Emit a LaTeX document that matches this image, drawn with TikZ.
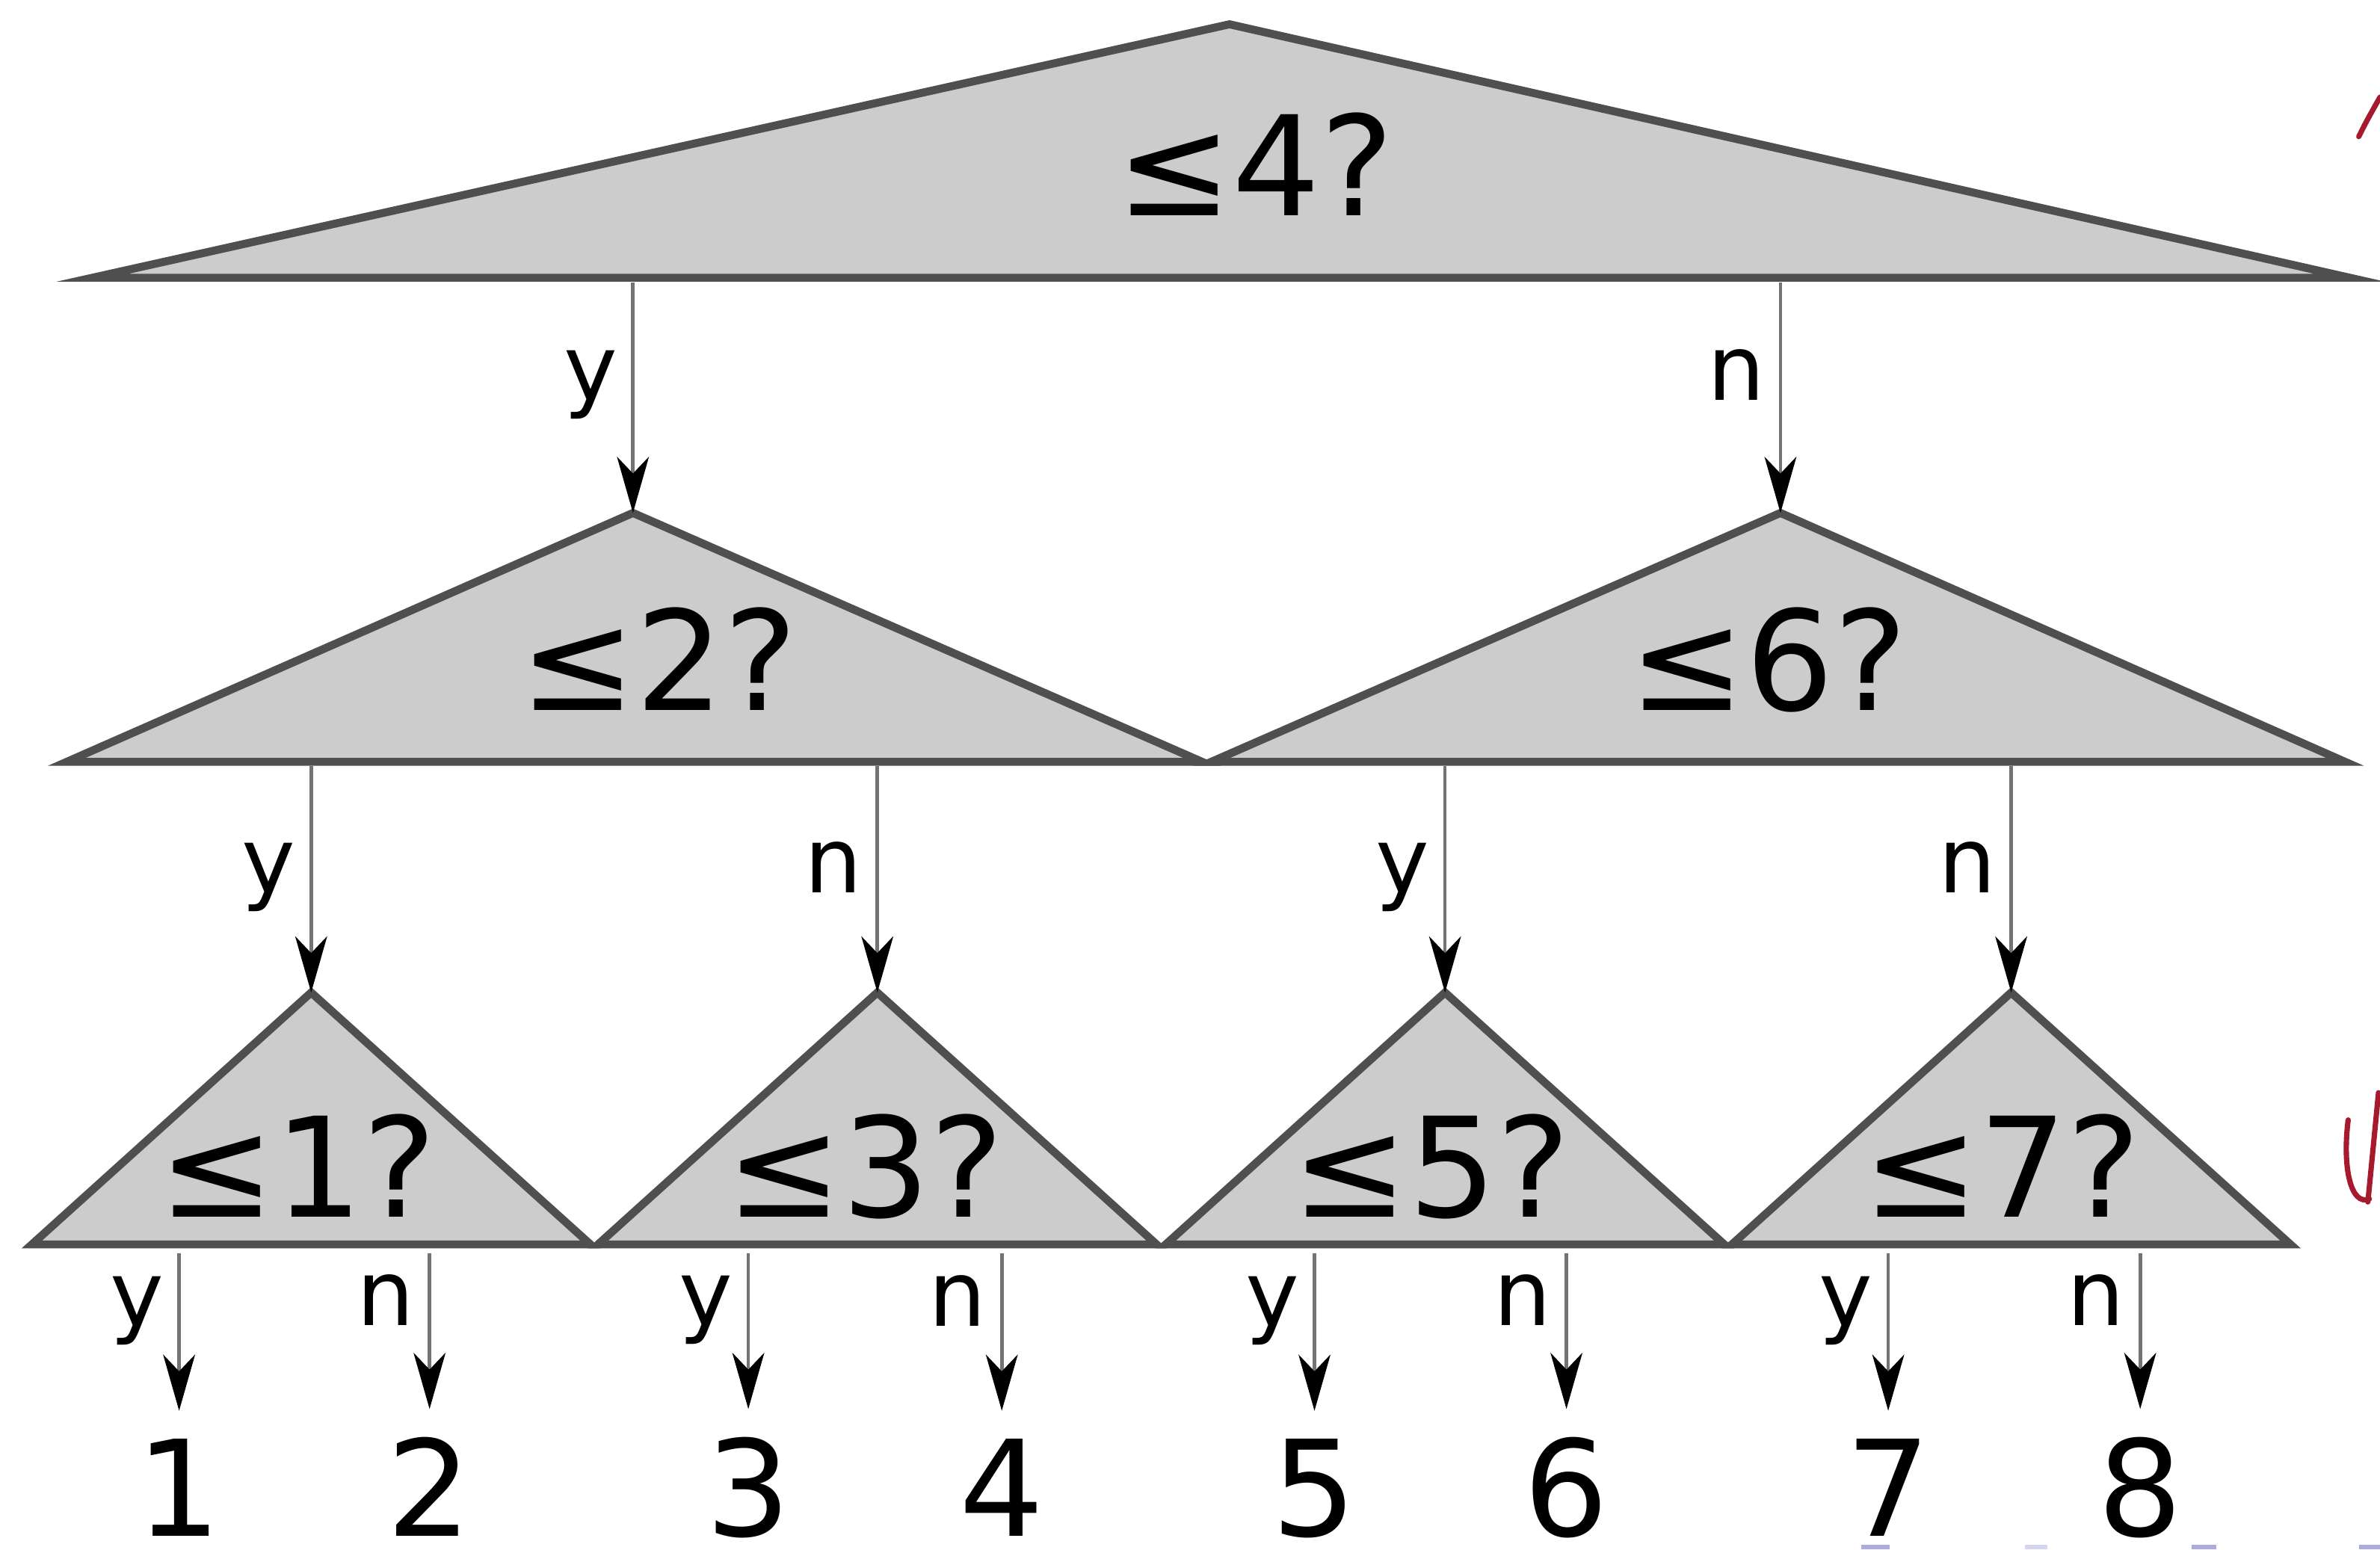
\documentclass[tikz,border=0pt]{standalone}
\usepackage{fontspec}
\setmainfont{DejaVu Sans}
\usepackage{xcolor}
\usetikzlibrary{arrows.meta}
\definecolor{trifill}{HTML}{CCCCCC}
\definecolor{triline}{HTML}{4F4F4F}
\definecolor{inkred}{HTML}{A51A2D}
\definecolor{markblue}{HTML}{ABABDD}
\tikzset{tri/.style={draw=triline,fill=trifill,line width=3pt,line join=miter},
big/.style={inner sep=0pt,anchor=base,font=\fontsize{52}{60}\selectfont},
leaf/.style={inner sep=0pt,anchor=base,font=\fontsize{50}{60}\selectfont},
yn/.style={inner sep=0pt,anchor=base east,xshift=-0.18cm,font=\fontsize{34}{40}\selectfont},
branch/.style={-{Stealth[length=0.74cm,width=0.42cm,inset=0.22cm,color=black]},draw=black!55,line width=1.3pt}}
\begin{document}
\begin{tikzpicture}[x=0.02cm,y=-0.02cm]
\useasboundingbox(0,0)rectangle(1568,1021);
% triangles
\draw[tri](61,183)--(810,16)coordinate(q4)--(1548,183)--cycle;
\draw[tri](44,502)--(417,338)coordinate(q2)--(792,502)--cycle;
\draw[tri](798,502)--(1173,338)coordinate(q6)--(1545,502)--cycle;
\draw[tri](21,820)--(205,654)coordinate(q1)--(389,820)--cycle;
\draw[tri](394,820)--(578,654)coordinate(q3)--(762,820)--cycle;
\draw[tri](768,820)--(952,654)coordinate(q5)--(1136,820)--cycle;
\draw[tri](1141,820)--(1325,654)coordinate(q7)--(1509,820)--cycle;
\node[big](t4)at(827,142){≤4?};
\node[big](t2)at(434,468){≤2?};
\node[big](t6)at(1165,468){≤6?};
\node[big](t1)at(196,802){≤1?};
\node[big](t3)at(570,802){≤3?};
\node[big](t5)at(943,802){≤5?};
\node[big](t7)at(1319,802){≤7?};
% leaves
\node[leaf](l1)at(118,1012){1};
\node[leaf](l2)at(283,1012){2};
\node[leaf](l3)at(493,1012){3};
\node[leaf](l4)at(660,1012){4};
\node[leaf](l5)at(866,1012){5};
\node[leaf](l6)at(1032,1012){6};
\node[leaf](l7)at(1244,1012){7};
\node[leaf](l8)at(1410,1012){8};
\coordinate(b4)at(0,186);
\coordinate(b26)at(0,505);
\coordinate(b1357)at(0,826);
% branches
\draw[branch](q2|-b4)--(q2)node[yn,pos=0.51]{y};
\draw[branch](q6|-b4)--(q6)node[yn,pos=0.51]{n};
\draw[branch](q1|-b26)--(q1)node[yn,pos=0.56]{y};
\draw[branch](q3|-b26)--(q3)node[yn,pos=0.56]{n};
\draw[branch](q5|-b26)--(q5)node[yn,pos=0.56]{y};
\draw[branch](q7|-b26)--(q7)node[yn,pos=0.56]{n};
\draw[branch](l1|-b1357)--([yshift=0.36cm]l1.north)node[yn,pos=0.46]{y};
\draw[branch](l2|-b1357)--([yshift=0.36cm]l2.north)node[yn,pos=0.46]{n};
\draw[branch](l3|-b1357)--([yshift=0.36cm]l3.north)node[yn,pos=0.46]{y};
\draw[branch](l4|-b1357)--([yshift=0.36cm]l4.north)node[yn,pos=0.46]{n};
\draw[branch](l5|-b1357)--([yshift=0.36cm]l5.north)node[yn,pos=0.46]{y};
\draw[branch](l6|-b1357)--([yshift=0.36cm]l6.north)node[yn,pos=0.46]{n};
\draw[branch](l7|-b1357)--([yshift=0.36cm]l7.north)node[yn,pos=0.46]{y};
\draw[branch](l8|-b1357)--([yshift=0.36cm]l8.north)node[yn,pos=0.46]{n};
% marks at the edges
\draw[inkred,line width=0.07cm,line cap=round](1554,90)..controls(1559,80)..(1568,64);
\draw[inkred,line width=0.07cm,line cap=round](1547,738)..controls(1543,770)and(1549,795)..(1561,790);
\draw[inkred,line width=0.07cm,line cap=round](1560,792)--(1567,720);
\fill[markblue](1226,1018)rectangle(1245,1021);
\fill[markblue!50](1334,1018)rectangle(1349,1021);
\fill[markblue](1444,1018)rectangle(1460,1021);
\fill[markblue](1554,1018)rectangle(1568,1021);
\end{tikzpicture}
\end{document}
